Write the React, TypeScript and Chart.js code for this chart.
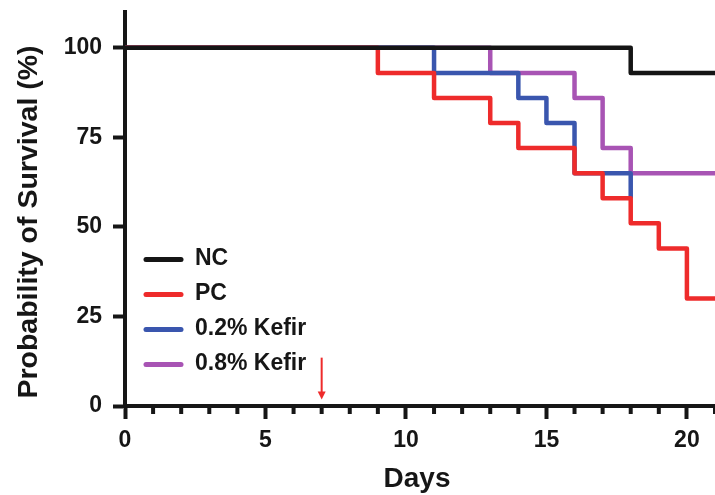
import React, { useEffect, useRef } from "react";
import { Chart, registerables } from "chart.js";

Chart.register(...registerables);

// ---- data ----
const seriesLabels = ["NC", "PC", "0.2% Kefir", "0.8% Kefir"];
const ncDays = [0, 18, 21];
const ncSurvival = [100, 93, 93];
const pcDays = [0, 9, 11, 13, 14, 16, 17, 18, 19, 20, 21];
const pcSurvival = [100, 93, 86, 79, 72, 65, 58, 51, 44, 30, 30];
const kefir02Days = [0, 11, 14, 15, 16, 18];
const kefir02Survival = [100, 93, 86, 79, 65, 58];
const kefir08Days = [0, 13, 16, 17, 18, 21];
const kefir08Survival = [100, 93, 86, 72, 65, 65];

const xTicks = [0, 5, 10, 15, 20];
const xMinorTicks = [1, 2, 3, 4, 6, 7, 8, 9, 11, 12, 13, 14, 16, 17, 18, 19, 21];
const yTicks = [0, 25, 50, 75, 100];
const treatmentDay = 7;
const arrowTop = 13.5;
const arrowTip = 1.8;

const xTitle = "Days";
const yTitle = "Probability of Survival (%)";

// ---- styles ----
const seriesColors = ["#151515", "#ee2b2b", "#3a56ae", "#a854b4"];
const axisColor = "#161616";
const fontFamily = '"Liberation Sans", Arial, Helvetica, sans-serif';

const toPoints = (xs: number[], ys: number[]) => xs.map((x, i) => ({ x, y: ys[i] }));

const decorPlugin = {
  id: "decor",
  afterDraw(chart: any) {
    const { ctx, scales } = chart;
    const x = scales.x;
    const y = scales.y;
    const y0 = y.getPixelForValue(0);
    ctx.save();

    // minor ticks
    ctx.strokeStyle = axisColor;
    ctx.lineWidth = 4;
    for (const d of xMinorTicks) {
      const px = x.getPixelForValue(d);
      ctx.beginPath();
      ctx.moveTo(px, y0);
      ctx.lineTo(px, y0 + 8);
      ctx.stroke();
    }

    // treatment arrow
    const ax = x.getPixelForValue(treatmentDay);
    const aTop = y.getPixelForValue(arrowTop);
    const aTip = y.getPixelForValue(arrowTip);
    ctx.strokeStyle = seriesColors[1];
    ctx.fillStyle = seriesColors[1];
    ctx.lineWidth = 2;
    ctx.beginPath();
    ctx.moveTo(ax, aTop);
    ctx.lineTo(ax, aTip - 6);
    ctx.stroke();
    ctx.beginPath();
    ctx.moveTo(ax - 4, aTip - 8);
    ctx.lineTo(ax + 4, aTip - 8);
    ctx.lineTo(ax, aTip);
    ctx.closePath();
    ctx.fill();

    // legend
    ctx.font = `bold 23px ${fontFamily}`;
    ctx.textBaseline = "middle";
    ctx.textAlign = "left";
    chart.data.datasets.forEach((ds: any, i: number) => {
      const ly = 259.5 + i * 35;
      ctx.strokeStyle = ds.borderColor;
      ctx.lineWidth = 5;
      ctx.lineCap = "round";
      ctx.beginPath();
      ctx.moveTo(146, ly);
      ctx.lineTo(181, ly);
      ctx.stroke();
      ctx.fillStyle = axisColor;
      ctx.fillText(ds.label, 195, ly - 1);
    });

    // axis titles
    ctx.fillStyle = axisColor;
    ctx.textAlign = "center";
    ctx.textBaseline = "alphabetic";
    ctx.font = `bold 28px ${fontFamily}`;
    ctx.fillText(xTitle, 417, 486.5);
    ctx.save();
    ctx.font = `bold 28.5px ${fontFamily}`;
    ctx.translate(37, 222);
    ctx.rotate(-Math.PI / 2);
    ctx.fillText(yTitle, 0, 0);
    ctx.restore();

    ctx.restore();
  },
};

export default function App() {
  const canvasRef = useRef<HTMLCanvasElement | null>(null);

  useEffect(() => {
    if (!canvasRef.current) return;
    const allDays = [ncDays, pcDays, kefir02Days, kefir08Days];
    const allSurv = [ncSurvival, pcSurvival, kefir02Survival, kefir08Survival];
    const chart = new Chart(canvasRef.current, {
      type: "line",
      data: {
        datasets: seriesLabels.map((label, i) => ({
          label,
          data: toPoints(allDays[i], allSurv[i]),
          borderColor: seriesColors[i],
          backgroundColor: seriesColors[i],
          borderWidth: 4.5,
          stepped: true,
          pointRadius: 0,
          pointHoverRadius: 0,
          fill: false,
          borderJoinStyle: "round",
          clip: 4,
        })),
      },
      options: {
        animation: false,
        responsive: false,
        maintainAspectRatio: false,
        layout: { padding: { top: 12, left: 0, right: 0, bottom: 0 } },
        plugins: {
          legend: { display: false },
          tooltip: { enabled: false },
        },
        scales: {
          x: {
            type: "linear",
            min: 0,
            max: 21,
            afterBuildTicks: (s: any) => {
              s.ticks = xTicks.map((v) => ({ value: v }));
            },
            afterFit: (s: any) => {
              s.height = 89;
              s.paddingLeft = 0;
              s.paddingRight = 0;
              s.paddingTop = 0;
              s.paddingBottom = 0;
            },
            grid: {
              drawOnChartArea: false,
              drawTicks: true,
              tickLength: 13,
              tickWidth: 4,
              tickColor: axisColor,
              color: axisColor,
            },
            border: { display: true, width: 4, color: axisColor },
            ticks: {
              padding: 8,
              color: axisColor,
              font: { family: fontFamily, size: 23, weight: "bold" },
              maxRotation: 0,
            },
          },
          y: {
            type: "linear",
            min: 0,
            max: 110,
            afterBuildTicks: (s: any) => {
              s.ticks = yTicks.map((v) => ({ value: v }));
            },
            afterFit: (s: any) => {
              s.width = 125;
              s.paddingLeft = 0;
              s.paddingRight = 0;
              s.paddingTop = 0;
              s.paddingBottom = 0;
            },
            grid: {
              drawOnChartArea: false,
              drawTicks: true,
              tickLength: 12,
              tickWidth: 4,
              tickColor: axisColor,
              color: axisColor,
            },
            border: { display: true, width: 4, color: axisColor },
            ticks: {
              padding: 11,
              color: axisColor,
              font: { family: fontFamily, size: 23, weight: "bold" },
            },
          },
        },
      },
      plugins: [decorPlugin],
    } as any);
    return () => chart.destroy();
  }, []);

  return (
    <div style={{ position: "fixed", left: 0, top: 0, width: 715, height: 495, background: "#fff" }}>
      <canvas ref={canvasRef} width={715} height={495} style={{ display: "block" }} />
    </div>
  );
}
